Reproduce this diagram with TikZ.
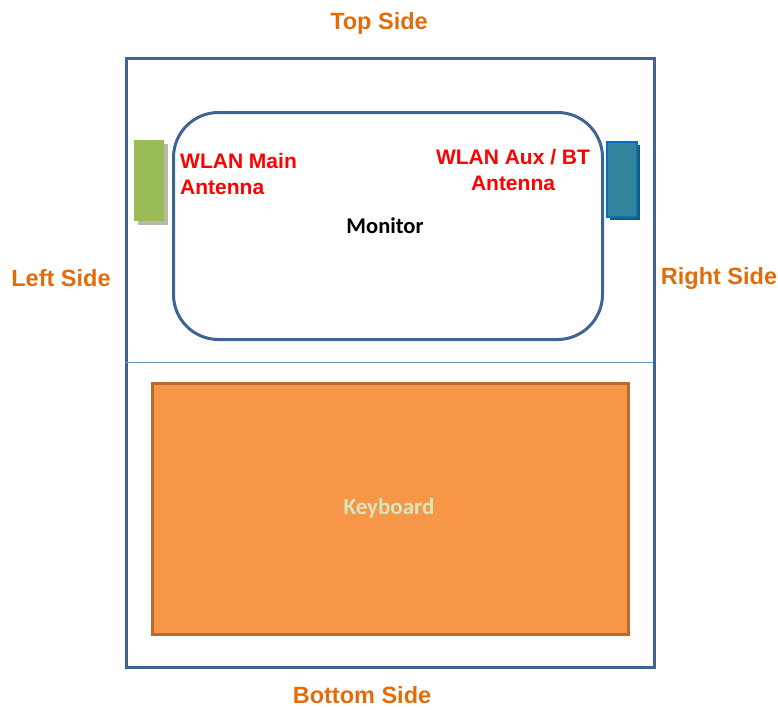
\documentclass[tikz,border=0pt]{standalone}
\usepackage{fontspec}
\setmainfont{Liberation Sans}
\newfontfamily\calfont{Carlito}
\definecolor{frameblue}{HTML}{3F6393}
\definecolor{lineblue}{HTML}{6E93C6}
\definecolor{sideorange}{HTML}{E36C09}
\definecolor{antgreen}{HTML}{9BBB59}
\definecolor{antgreenshadow}{HTML}{B4BBA4}
\definecolor{antblue}{HTML}{31849B}
\definecolor{antblueborder}{HTML}{0070C0}
\definecolor{antblueshadow}{HTML}{215868}
\definecolor{kbfill}{HTML}{F79646}
\definecolor{kbborder}{HTML}{B86A30}
\definecolor{kbtext}{HTML}{D4E8BE}
\begin{document}
\begin{tikzpicture}[x=1pt,y=-1pt,
  sidelabel/.style={font=\fontsize{23.5}{26}\selectfont\bfseries, text=sideorange, inner sep=0pt},
  antlabel/.style={font=\fontsize{21}{25.5}\selectfont\bfseries, text=red, inner sep=0pt},
  box/.style={line width=3pt, draw=frameblue}]
\useasboundingbox (0,0) rectangle (778,709);
% outer frame
\node[box, minimum width=528pt, minimum height=609pt, anchor=north west, inner sep=0pt] (frame) at (125,57) {};
\coordinate (divl) at (125,362);
\coordinate (divr) at (653,362);
\draw[lineblue, line width=1pt] (divl) -- (divr);
% monitor
\node[box, rounded corners=45pt, minimum width=429pt, minimum height=227pt, anchor=north west, inner sep=0pt] (monitor) at (172,111) {};
\node[font=\calfont\fontsize{22.5}{24}\selectfont\bfseries, inner sep=0pt] (montext) at (385,226) {Monitor};
% green antenna
\fill[antgreenshadow] (138,144) rectangle (168,225);
\node[fill=antgreen, minimum width=30pt, minimum height=81pt, anchor=north west, inner sep=0pt] (mainant) at (134,140) {};
% blue antenna
\fill[antblueshadow] (610,145) rectangle (640,220);
\node[fill=antblue, draw=antblueborder, line width=1.5pt, minimum width=30pt, minimum height=75pt, anchor=north west, inner sep=0pt] (auxant) at (606,141) {};
% antenna labels
\node[antlabel, align=left, anchor=west] (mainlbl) at (180,174) {WLAN Main\\Antenna};
\node[antlabel, align=center] (auxlbl) at (513,170) {WLAN Aux / BT\\Antenna};
% keyboard
\node[fill=kbfill, draw=kbborder, line width=3pt, minimum width=476pt, minimum height=251pt, anchor=north west, inner sep=0pt] (keyboard) at (151,382) {};
\node[font=\calfont\fontsize{23}{24}\selectfont\bfseries, text=kbtext, inner sep=0pt] (kbtext) at (389,508) {Keyboard};
% side labels
\node[sidelabel] (top) at (379,23) {Top Side};
\node[sidelabel] (bottom) at (362,695) {Bottom Side};
\node[sidelabel] (left) at (61,278) {Left Side};
\node[sidelabel] (right) at (719,278) {Right Side};
\end{tikzpicture}
\end{document}
